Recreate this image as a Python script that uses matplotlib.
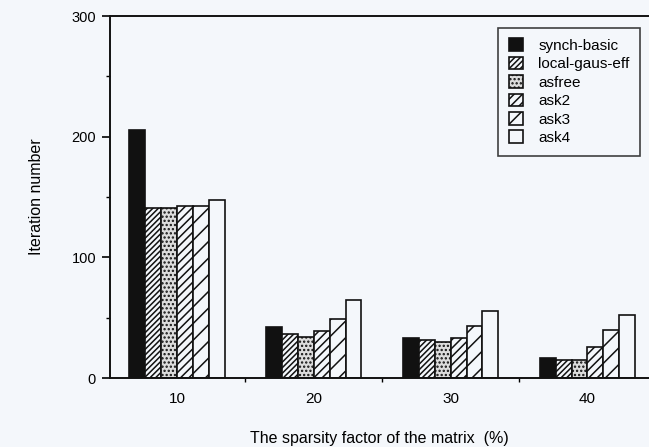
import numpy as np
import matplotlib.pyplot as plt

plt.rcParams["font.family"] = ["Liberation Sans", "DejaVu Sans"]
plt.rcParams["hatch.linewidth"] = 1.1

sparsity = ["10", "20", "30", "40"]
series = ["synch-basic", "local-gaus-eff", "asfree", "ask2", "ask3", "ask4"]

synch_basic = [206, 42, 33, 17]
local_gaus_eff = [141, 37, 32, 15]
asfree = [141, 34, 30, 15]
ask2 = [143, 39, 33, 26]
ask3 = [143, 49, 43, 40]
ask4 = [148, 65, 56, 52]

values = [synch_basic, local_gaus_eff, asfree, ask2, ask3, ask4]

paper = "#f4f7fb"
faces = ["#111111", paper, "#dcdcdc", paper, paper, paper]
hatches = [None, "//////", "....", "////", "//", None]

fig = plt.figure(figsize=(6.49, 4.47), dpi=100, facecolor=paper)
ax = fig.add_axes([0.1695, 0.154, 0.8305, 0.81])
ax.set_facecolor(paper)

x = np.arange(len(sparsity))
width = 0.116
for i, name in enumerate(series):
    offset = (i - 2.5) * width
    ax.bar(
        x + offset,
        values[i],
        width,
        color=faces[i],
        edgecolor="#111111",
        hatch=hatches[i],
        linewidth=1.2,
        label=name,
    )

ax.set_xlim(-0.49, 3.45)
ax.set_ylim(0, 300)

ax.set_yticks([0, 100, 200, 300])
ax.set_yticks([50, 150, 250], minor=True)
ax.set_xticks(x)
ax.set_xticklabels(sparsity, fontsize=11)
ax.set_xticks([0.5, 1.5, 2.5], minor=True)

ax.tick_params(axis="y", which="major", direction="out", length=6,
               width=1.2, labelsize=10.5, pad=4)
ax.tick_params(axis="y", which="minor", direction="out", length=3, width=1)
ax.tick_params(axis="x", which="major", length=0, pad=10)
ax.tick_params(axis="x", which="minor", direction="out", length=3, width=1)

for side in ["left", "bottom", "top"]:
    ax.spines[side].set_linewidth(1.4)
    ax.spines[side].set_color("#111111")
ax.spines["right"].set_visible(False)

ax.set_ylabel("Iteration number", fontsize=11.5, labelpad=20)
ax.set_xlabel("The sparsity factor of the matrix  (%)", fontsize=11.5,
              labelpad=18)

leg = ax.legend(
    loc="upper right",
    bbox_to_anchor=(0.995, 0.985),
    fontsize=11,
    frameon=True,
    fancybox=False,
    handlelength=0.9,
    handleheight=0.9,
    handletextpad=1.0,
    labelspacing=0.25,
    borderpad=0.7,
    borderaxespad=0.4,
)
leg.get_frame().set_edgecolor("#111111")
leg.get_frame().set_linewidth(1.2)
leg.get_frame().set_facecolor(paper)

fig.savefig("out.png", dpi=100, facecolor=paper)
